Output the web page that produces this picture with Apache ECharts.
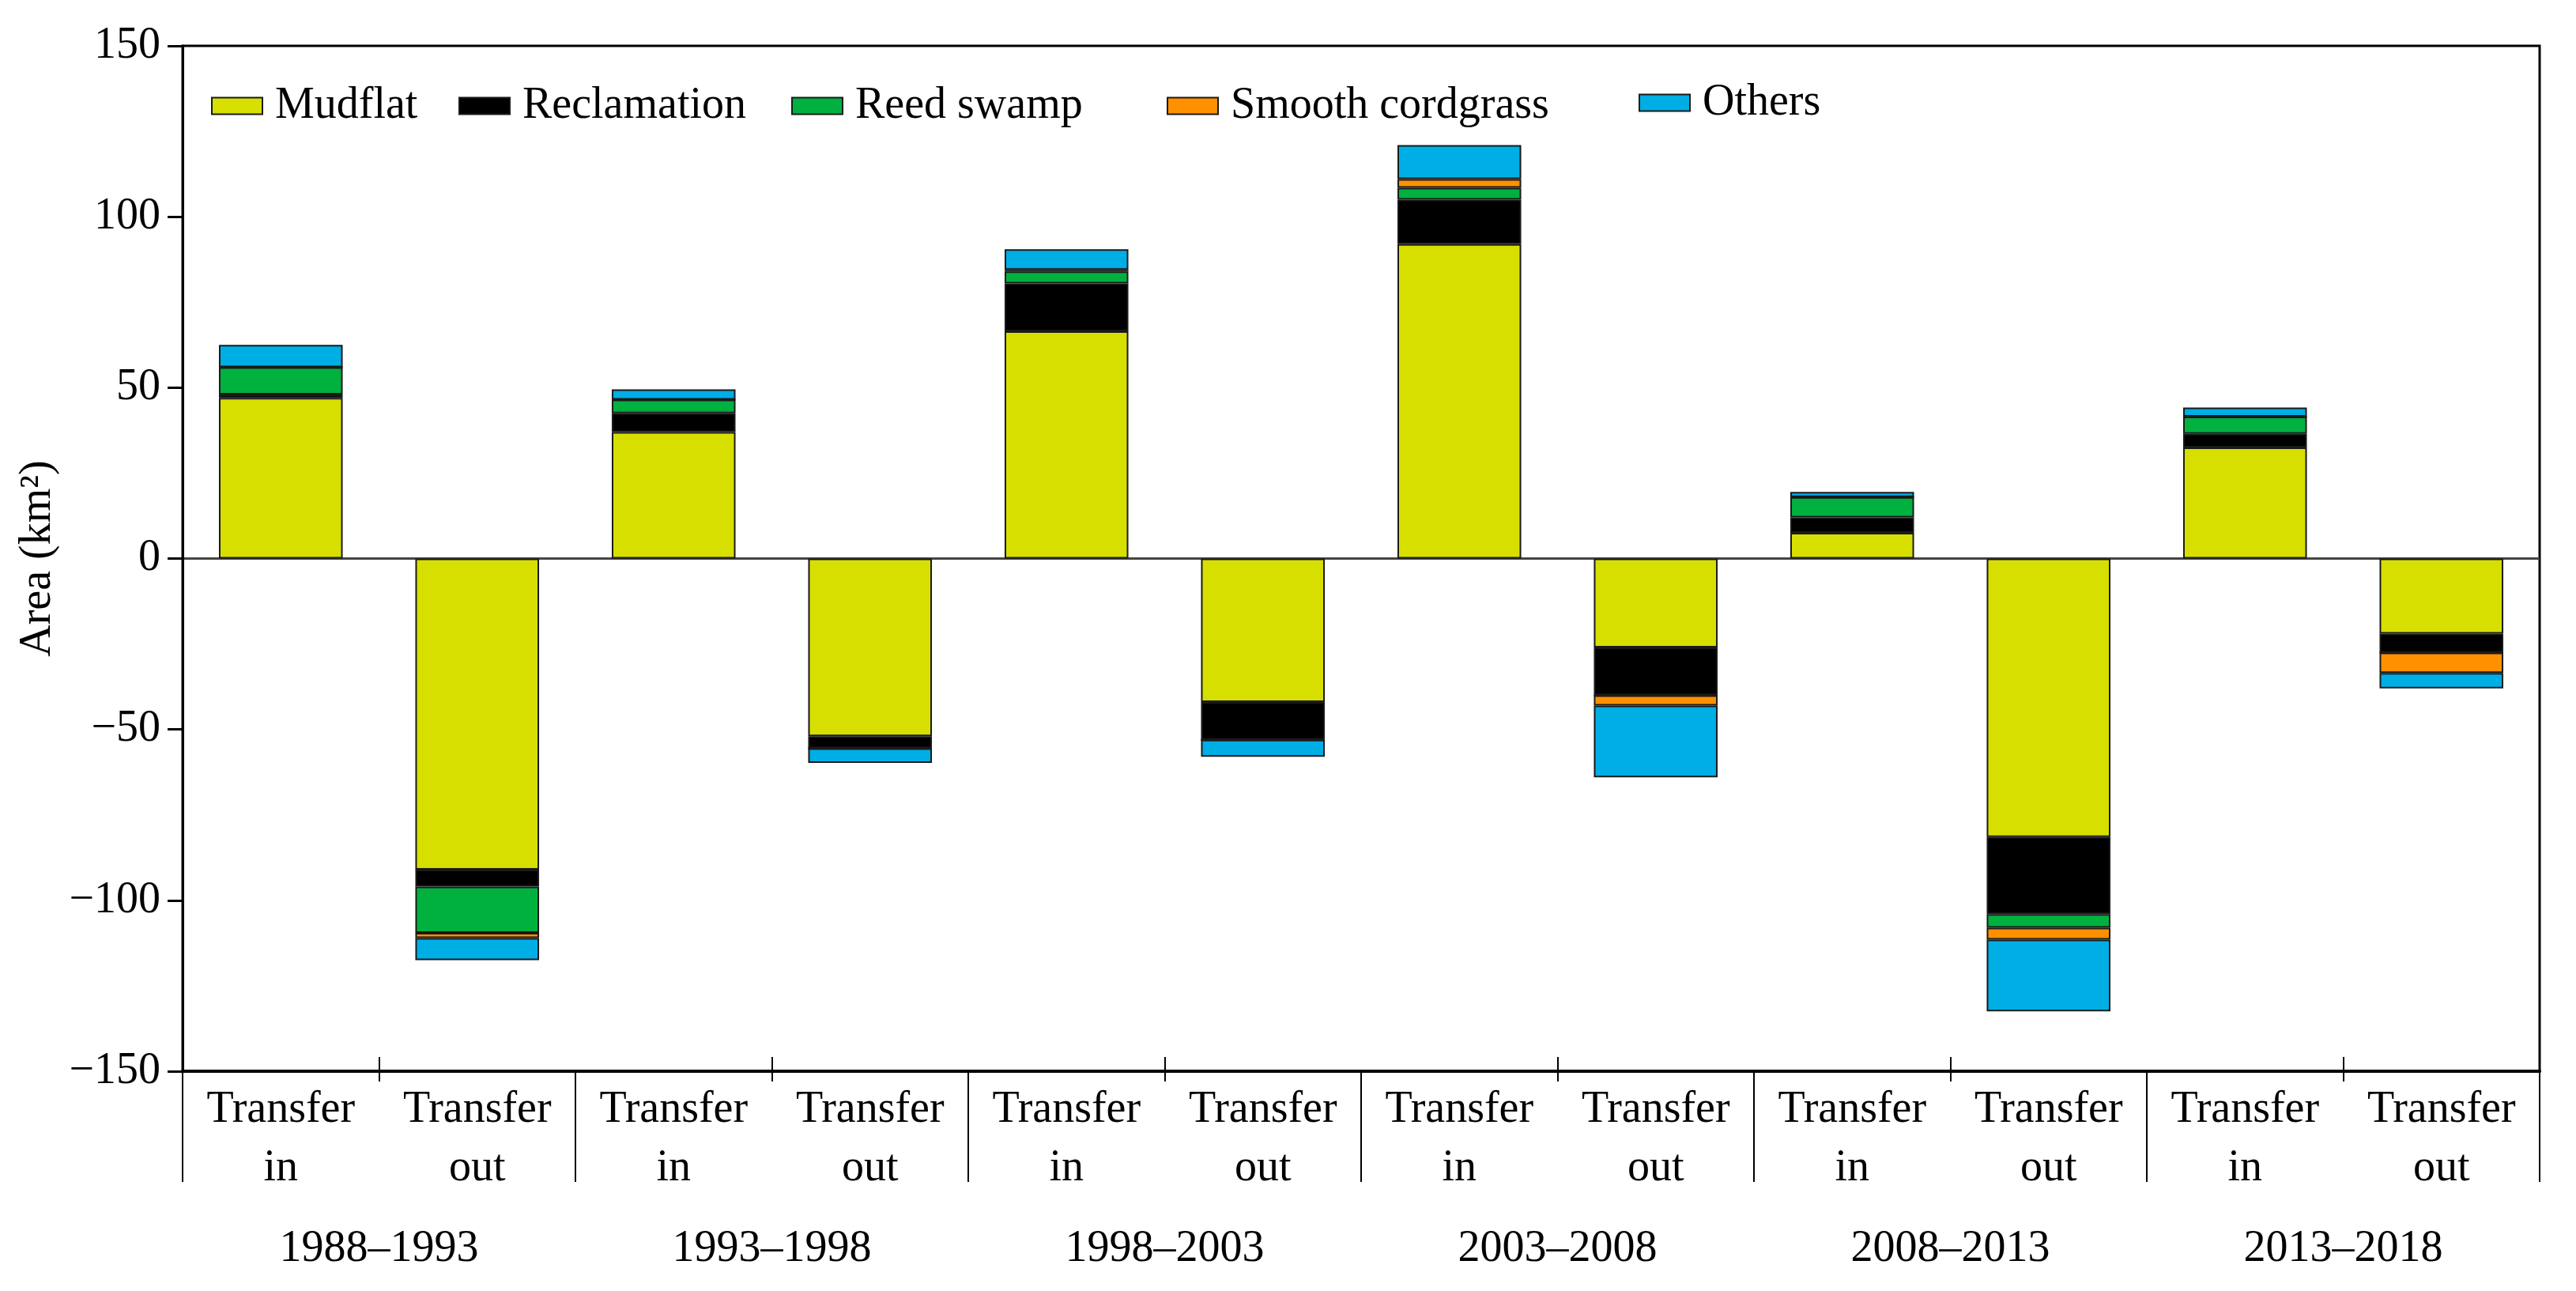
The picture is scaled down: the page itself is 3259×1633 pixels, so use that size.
<!DOCTYPE html>
<html>
<head>
<meta charset="utf-8">
<script src="https://cdn.jsdelivr.net/npm/echarts@6/dist/echarts.min.js"></script>
<style>html,body{margin:0;padding:0;background:#fff}#c{width:3259px;height:1633px}</style>
</head>
<body>
<div id="c"></div>
<script>
const categories = ['Transfer\nin','Transfer\nout','Transfer\nin','Transfer\nout','Transfer\nin','Transfer\nout','Transfer\nin','Transfer\nout','Transfer\nin','Transfer\nout','Transfer\nin','Transfer\nout'];
const periods = ['1988–1993','1993–1998','1998–2003','2003–2008','2008–2013','2013–2018'];
const seriesNames = ['Mudflat','Reclamation','Reed swamp','Smooth cordgrass','Others'];
const mudflat = [47, -91, 37, -52, 66.5, -42, 92, -26, 7.5, -81.5, 32.5, -22];
const reclamation = [1, -5, 5.5, -3.5, 14, -11, 13, -14, 4.5, -22.5, 4, -5.5];
const reedSwamp = [8, -13.5, 4, 0, 3.5, 0, 3.5, 0, 6, -4, 5, 0];
const smoothCordgrass = [0, -1.5, 0, 0, 0.5, 0, 2.5, -3, 0, -3.5, 0, -6];
const others = [6.5, -6.5, 3, -4.3, 6, -5, 10, -21, 1.5, -21, 2.7, -4.5];
const yMin = -150, yMax = 150, yStep = 50;

const colors = ['#D7DF00', '#000000', '#00B140', '#FF9100', '#00AEE6'];
const values = [mudflat, reclamation, reedSwamp, smoothCordgrass, others];
const legendLeft = [262, 575, 996, 1471, 2068];
const legendTop = [101, 101, 101, 101, 97];
const FONT = 'Liberation Serif';
const FS = 56;

const chart = echarts.init(document.getElementById('c'));
const option = {
  backgroundColor: '#fff',
  animation: false,
  textStyle: { fontFamily: FONT },
  grid: { left: 231, right: 46, top: 58, bottom: 278, show: true, borderColor: '#000', borderWidth: 3, containLabel: false },
  legend: seriesNames.map((n, i) => ({
    data: [n], left: legendLeft[i], top: legendTop[i], itemWidth: 64, itemHeight: 21, icon: 'rect',
    textStyle: { fontFamily: FONT, fontSize: FS, color: '#000', padding: [0, 0, 0, 11] },
    selectedMode: false
  })),
  xAxis: [
    {
      type: 'category', data: categories, position: 'bottom',
      axisLine: { show: true, onZero: false, lineStyle: { color: '#000', width: 4 } },
      axisTick: { show: false },
      axisLabel: { fontFamily: FONT, fontSize: FS, color: '#000', lineHeight: 74, margin: 12, interval: 0 },
      splitLine: { show: false }
    },
    {
      type: 'category', data: periods, position: 'bottom', offset: 0,
      axisLine: { show: false, onZero: false },
      axisTick: { show: true, length: 140, interval: 0, lineStyle: { color: '#000', width: 2 } },
      axisLabel: { fontFamily: FONT, fontSize: FS, color: '#000', lineHeight: 58, margin: 196, interval: 0 },
      splitLine: { show: false }
    },
    {
      type: 'category', data: periods, position: 'bottom', offset: 13,
      axisLine: { show: false, onZero: false },
      axisTick: { show: true, inside: true, alignWithLabel: true, length: 31, interval: 0, lineStyle: { color: '#000', width: 2 } },
      axisLabel: { show: false },
      splitLine: { show: false }
    }
  ],
  yAxis: {
    type: 'value', min: yMin, max: yMax, interval: yStep,
    name: 'Area (km²)', nameLocation: 'middle', nameGap: 144,
    nameTextStyle: { fontFamily: FONT, fontSize: FS, color: '#000' },
    axisLine: { show: true, lineStyle: { color: '#000', width: 3 } },
    axisTick: { show: true, length: 19, lineStyle: { color: '#000', width: 3 } },
    axisLabel: { fontFamily: FONT, fontSize: FS, color: '#000', margin: 28, formatter: v => String(v).replace('-', '−') },
    splitLine: { show: true, lineStyle: { width: 3, color: ['rgba(0,0,0,0)','rgba(0,0,0,0)','rgba(0,0,0,0)','#444','rgba(0,0,0,0)','rgba(0,0,0,0)','rgba(0,0,0,0)'] } }
  },
  series: seriesNames.map((n, i) => ({
    name: n, type: 'bar', stack: 'total', xAxisIndex: 0, data: values[i],
    barCategoryGap: '37%',
    itemStyle: { color: colors[i], borderColor: '#1a1a1a', borderWidth: 2 },
    emphasis: { disabled: true }
  }))
};
chart.setOption(option);
</script>
</body>
</html>
